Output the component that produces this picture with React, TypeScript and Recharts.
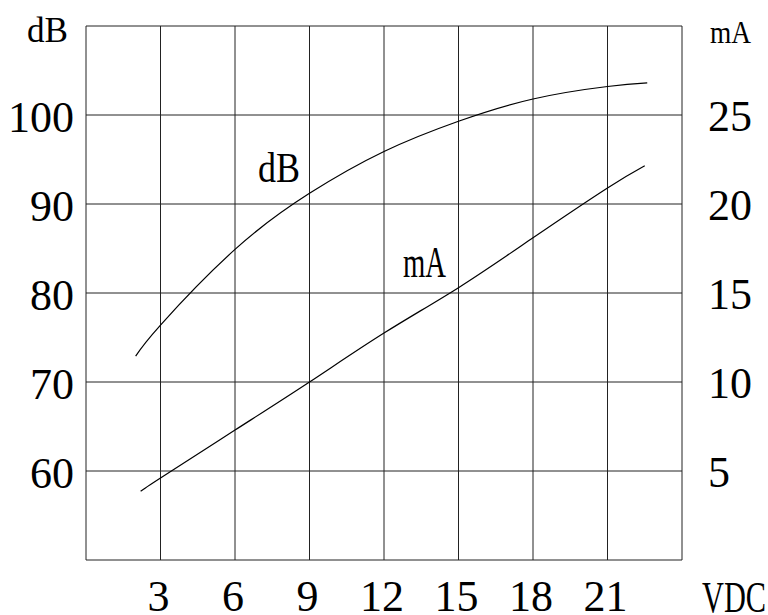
import React from 'react';
import { LineChart, Line, XAxis, YAxis, CartesianGrid, Customized } from 'recharts';

// dB curve (left axis)
const vdcDb = [2.0, 3, 6, 9, 12, 15, 18, 21, 22.6];
const dbValues = [72.9, 76.4, 84.9, 91.2, 95.9, 99.3, 101.8, 103.2, 103.6];

// mA curve (right axis)
const vdcMa = [2.2, 3, 6, 9, 12, 15, 18, 21, 22.5];
const maValues = [3.86, 4.6, 7.3, 10.0, 12.75, 15.3, 18.1, 20.9, 22.15];

const xTicks = [0, 3, 6, 9, 12, 15, 18, 21, 24];
const xTickLabels = ['', '3', '6', '9', '12', '15', '18', '21', ''];
const dbTicks = [50, 60, 70, 80, 90, 100, 110];
const dbTickLabels = ['', '60', '70', '80', '90', '100', ''];
const maTicks = [0, 5, 10, 15, 20, 25, 30];
const maTickLabels = ['', '5', '10', '15', '20', '25', ''];

const dbData = vdcDb.map((v, i) => ({ v, y: dbValues[i] }));
const maData = vdcMa.map((v, i) => ({ v, y: maValues[i] }));

const FONT = '"Liberation Serif", "Times New Roman", serif';

const labelFor = (ticks: number[], labels: string[], value: number) => {
  const i = ticks.indexOf(value);
  return i >= 0 ? labels[i] : '';
};

const LeftTick = (props: any) => {
  const { y, payload } = props;
  const t = labelFor(dbTicks, dbTickLabels, payload.value);
  if (!t) return null;
  return (
    <text x={74} y={y + 17} textAnchor="end" fontFamily={FONT} fontSize={44} fill="#000">
      {t}
    </text>
  );
};

const RightTick = (props: any) => {
  const { y, payload } = props;
  const t = labelFor(maTicks, maTickLabels, payload.value);
  if (!t) return null;
  return (
    <text x={708} y={y + 16} textAnchor="start" fontFamily={FONT} fontSize={44} fill="#000">
      {t}
    </text>
  );
};

const BottomTick = (props: any) => {
  const { x, payload } = props;
  const t = labelFor(xTicks, xTickLabels, payload.value);
  if (!t) return null;
  return (
    <text x={x - 2} y={611} textAnchor="middle" fontFamily={FONT} fontSize={44} fill="#000">
      {t}
    </text>
  );
};

const T = ({ x, y, size, len, children }: any) => (
  <text
    x={x}
    y={y}
    fontFamily={FONT}
    fontSize={size}
    textLength={len}
    lengthAdjust="spacingAndGlyphs"
    fill="#000"
  >
    {children}
  </text>
);

const Labels = () => (
  <g>
    <T x={27} y={42} size={35} len={41}>dB</T>
    <T x={710} y={43} size={32} len={41}>mA</T>
    <T x={258} y={182} size={42} len={42}>dB</T>
    <T x={403} y={277} size={45} len={43}>mA</T>
    <T x={702} y={612} size={45} len={64}>VDC</T>
  </g>
);

export default function App() {
  return (
    <div style={{ position: 'absolute', left: 0, top: 0, width: 768, height: 615, background: '#fff' }}>
      <LineChart width={768} height={615} margin={{ top: 26, right: 0, bottom: 0, left: 0 }}>
        <CartesianGrid
          yAxisId="left"
          stroke="#222"
          strokeWidth={1}
          fill="none"
          horizontalValues={dbTicks}
          verticalValues={xTicks}
        />
        <XAxis
          type="number"
          dataKey="v"
          domain={[0, 24]}
          ticks={xTicks}
          height={55}
          axisLine={false}
          tickLine={false}
          tick={<BottomTick />}
          interval={0}
          allowDataOverflow
        />
        <YAxis
          yAxisId="left"
          orientation="left"
          type="number"
          domain={[50, 110]}
          ticks={dbTicks}
          width={86}
          axisLine={false}
          tickLine={false}
          tick={<LeftTick />}
          interval={0}
          allowDataOverflow
        />
        <YAxis
          yAxisId="right"
          orientation="right"
          type="number"
          domain={[0, 30]}
          ticks={maTicks}
          width={86}
          axisLine={false}
          tickLine={false}
          tick={<RightTick />}
          interval={0}
          allowDataOverflow
        />
        <Line
          yAxisId="left"
          data={dbData}
          dataKey="y"
          type="natural"
          stroke="#000"
          strokeWidth={1.2}
          dot={false}
          isAnimationActive={false}
        />
        <Line
          yAxisId="right"
          data={maData}
          dataKey="y"
          type="natural"
          stroke="#000"
          strokeWidth={1.2}
          dot={false}
          isAnimationActive={false}
        />
        <Customized component={Labels} />
      </LineChart>
    </div>
  );
}
